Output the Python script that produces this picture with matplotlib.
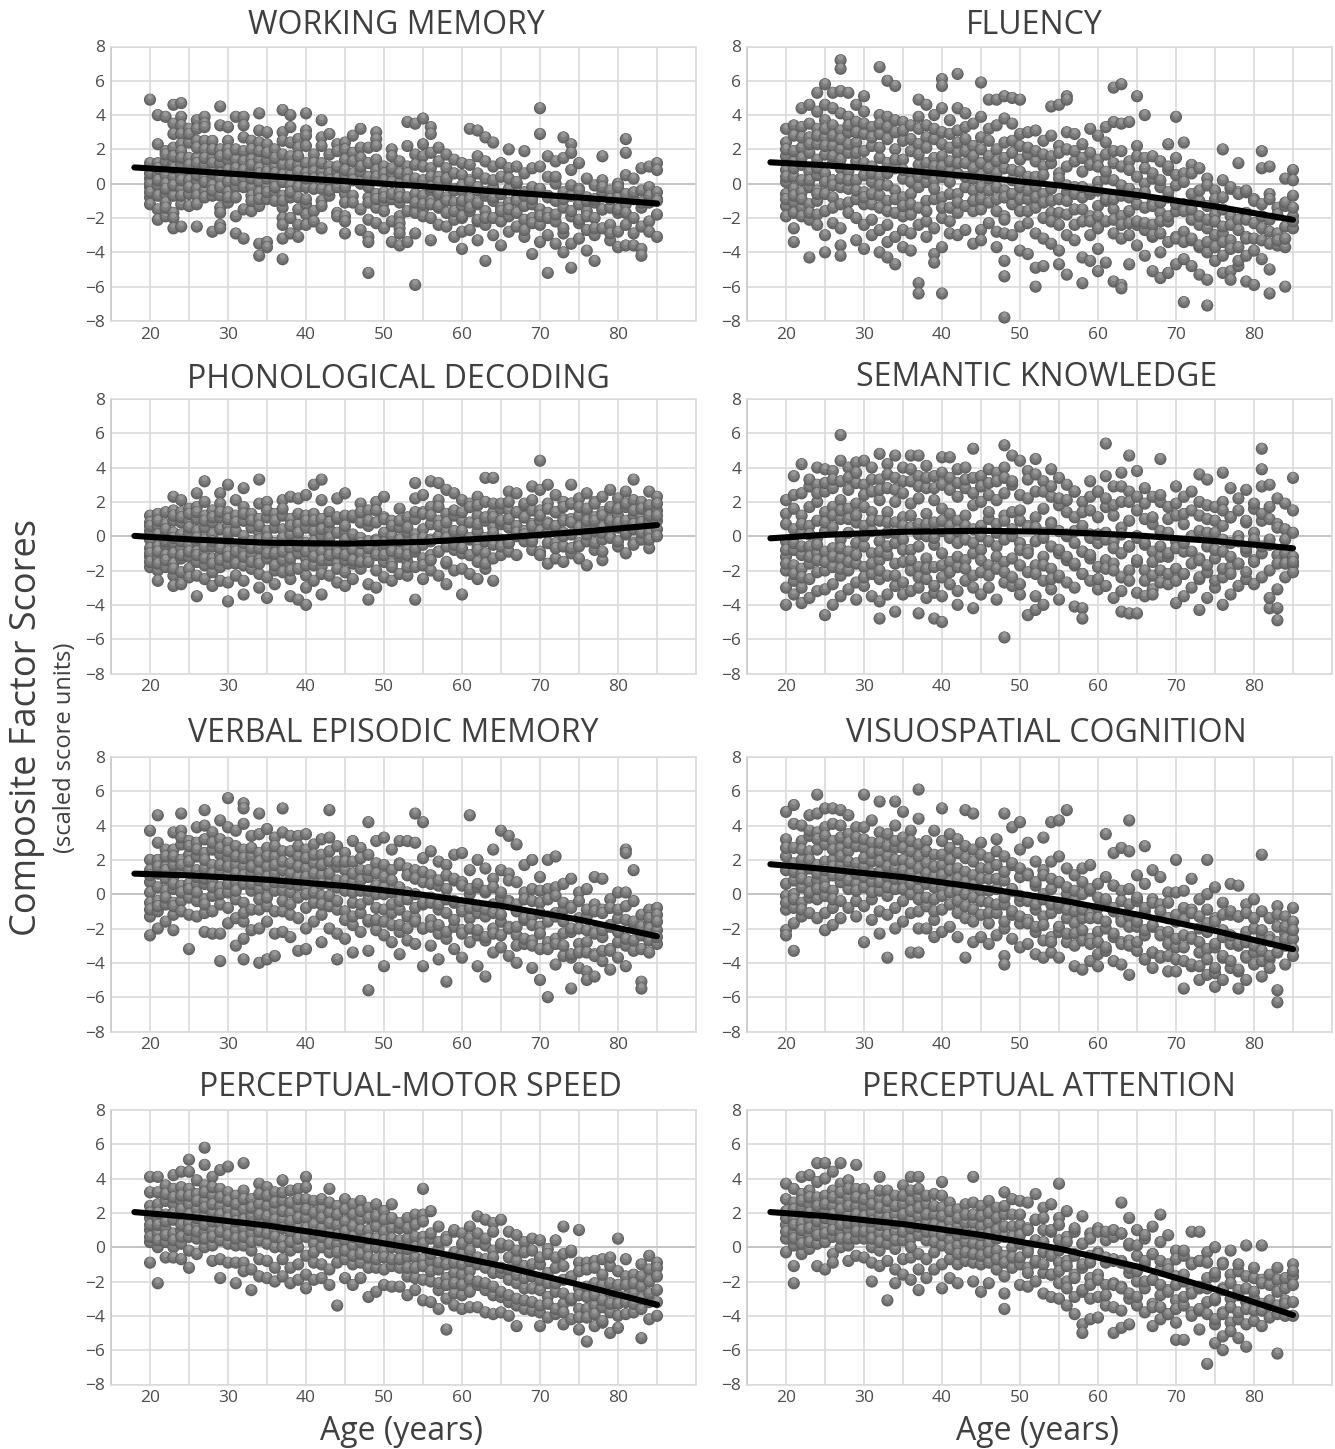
import numpy as np
import matplotlib
matplotlib.use("Agg")
import matplotlib.pyplot as plt

plt.rcParams['font.family'] = ['Open Sans', 'DejaVu Sans']

# scores, keyed by age
working_memory = {
    20: [4.9, 1.2, 0.3, -0.2, -0.8, -1.2, 0.0], 21: [4.0, 2.3, 1.2, 0.5, -0.1, -0.7, -1.5, -2.1],
    22: [3.9, 1.9, 1.3, 0.5, 0.0, -0.6, -1.1, -1.9], 23: [4.6, 3.5, 2.9, 2.1, 1.2, 0.4, -0.7, -1.7, -2.0, -2.6],
    24: [4.7, 3.9, 3.4, 2.9, 2.3, 1.9, 1.1, 0.5, -0.3, -1.2, -2.5], 25: [3.2, 2.4, 1.5, 0.8, 0.2, -0.6, -1.3],
    26: [3.7, 3.2, 2.5, 1.5, 0.9, 0.2, -0.3, -0.7, -1.2, -2.5], 27: [3.9, 3.5, 3.3, 2.5, 1.1, 0.4, -0.4, -0.8],
    28: [2.5, 1.5, 0.9, 0.3, -0.1, -0.7, -2.8], 29: [4.5, 3.4, 2.0, 1.2, 0.6, -0.7, -1.4, -1.7, -2.4, -2.6],
    30: [3.3, 2.5, 2.0, 1.4, 0.1, -0.5, -1.1], 31: [3.9, 1.4, 0.5, -0.2, -0.8, -1.9, -2.9],
    32: [3.9, 3.4, 2.7, 1.9, 1.3, 0.3, -1.5, -3.2], 33: [2.5, 2.0, 1.4, 0.8, -0.2, -0.7, -1.6],
    34: [4.1, 3.1, 2.4, 1.4, 0.9, 0.1, -0.5, -1.3, -3.5, -4.2], 35: [3.0, 2.3, 1.4, 0.7, -0.2, -0.9, -3.4, -3.7],
    36: [2.0, 1.0, 0.2, -0.5, -1.0], 37: [4.3, 3.0, 2.5, 1.1, 0.5, -0.7, -1.4, -2.0, -2.4, -3.2, -4.4],
    38: [4.0, 3.3, 2.4, 1.6, 0.5, -0.1, -0.8, -2.0, -2.9], 39: [2.6, 2.1, 1.1, 0.4, -0.2, -1.5, -2.4, -3.1],
    40: [4.1, 3.1, 2.8, 2.2, 1.2, 0.6, -0.2, -1.2, -1.8, -2.4], 41: [1.7, 1.2, 0.7, -1.6, -2.2],
    42: [3.7, 2.7, 2.2, 0.7, -0.3, -1.0, -1.3, -2.6], 43: [2.9, 1.7, 1.0, 0.6, -0.7],
    44: [2.3, 1.9, 0.7, -0.2, -1.7, -1.9], 45: [2.4, 2.0, 1.4, 0.5, -0.6, -1.1, -1.9, -2.2, -2.9],
    46: [2.8, 1.8, 0.6, -0.7, -1.1], 47: [3.2, 2.1, 1.5, 0.7, -1.5, -2.7],
    48: [2.1, 1.2, 0.4, -0.8, -2.1, -3.1, -3.4, -5.2], 49: [3.0, 2.6, 2.2, 1.4, 0.8, -0.6, -1.4, -2.3],
    50: [1.0, 0.6, -0.5, -1.1, -1.6, -2.6], 51: [2.0, 1.6, 0.6, -0.9, -2.2, -3.4],
    52: [1.3, 0.0, -0.5, -1.1, -1.9, -2.3, -2.6, -2.9, -3.6], 53: [3.6, 2.2, 1.0, 0.6, -3.4],
    54: [3.5, 1.7, 1.1, -0.6, -1.4, -1.7, -2.9, -5.9], 55: [3.8, 2.3, 1.6, 1.0, -0.7, -1.5, -1.9],
    56: [3.3, 2.9, 1.8, 0.9, -0.4, -1.0, -2.0, -3.3], 57: [2.1, 1.3, 0.4, -0.6, -1.4, -2.4],
    58: [1.7, 0.9, 0.2, -0.8, -1.7, -2.5], 59: [1.4, 0.6, -0.3, -1.1, -2.1, -3.1],
    60: [1.2, 0.5, -0.4, -1.3, -2.0, -2.8, -3.8], 61: [3.2, 1.1, 0.2, -0.9, -1.6, -2.7],
    62: [3.1, 1.6, 0.6, -0.4, -1.2, -2.2, -3.3], 63: [2.7, 1.3, 0.3, -0.7, -1.6, -2.4, -4.5],
    64: [2.4, 1.0, -0.2, -1.0, -2.0, -3.0], 65: [1.2, 0.4, -0.6, -1.4, -2.2, -3.6],
    66: [2.0, 0.9, -0.3, -1.1, -1.9, -2.8], 67: [1.0, 0.0, -0.9, -1.7, -2.5],
    68: [1.9, 0.6, -0.5, -1.3, -2.1, -3.1], 69: [0.9, -0.2, -1.2, -2.0, -4.1],
    70: [4.4, 2.9, 1.0, -0.4, -1.5, -2.4, -3.4], 71: [1.6, 0.4, -0.7, -1.7, -3.0, -5.2],
    72: [1.3, 0.0, -1.0, -2.2, -3.5], 73: [2.7, 1.5, -0.5, -1.4, -2.9, -4.0],
    74: [2.3, 1.8, 0.8, -0.7, -1.9, -3.5, -4.9], 75: [1.2, -0.3, -1.2, -2.3, -3.2],
    76: [0.3, -0.8, -1.6, -2.7, -3.9], 77: [-0.1, -1.1, -2.0, -3.0, -4.5],
    78: [1.6, 0.2, -0.5, -1.5, -2.6], 79: [-0.4, -1.4, -2.4, -3.3],
    80: [0.0, -0.8, -1.7, -2.8, -3.7], 81: [2.6, 1.8, 0.5, -1.2, -2.4, -3.6],
    82: [0.3, -0.9, -2.0, -3.6], 83: [0.9, -0.4, -1.4, -2.5, -3.8, -4.2],
    84: [1.0, -0.2, -1.1, -2.2], 85: [1.2, 0.8, -0.5, -0.9, -1.8],
}
fluency = {
    20: [3.2, 2.4, 1.6, 0.8, 0.1, -0.6, -1.3, -1.9], 21: [3.4, 2.8, 1.3, 0.4, -0.3, -1.1, -1.7, -2.6, -3.4],
    22: [4.4, 3.3, 2.1, 1.1, 0.2, -0.5, -1.4, -1.9], 23: [4.6, 3.5, 2.7, 1.8, 0.7, -0.2, -1.2, -2.1, -4.3],
    24: [5.3, 4.2, 3.2, 2.3, 1.4, 0.5, -0.4, -1.0, -1.8, -2.4], 25: [5.8, 4.6, 3.7, 2.7, 1.7, 0.6, -0.6, -1.6, -3.0, -4.0],
    26: [5.3, 4.4, 3.4, 2.2, 1.2, 0.2, -0.8, -1.4, -2.3], 27: [7.2, 6.7, 5.4, 4.1, 3.1, 2.0, 0.9, -0.2, -1.2, -2.6, -3.6, -4.2],
    28: [5.3, 3.9, 3.0, 1.8, 0.7, -0.3, -1.1, -1.7], 29: [4.6, 3.6, 2.4, 1.3, 0.2, -0.9, -2.0, -3.3],
    30: [5.1, 4.2, 2.9, 1.9, 0.5, -0.5, -1.2, -2.4, -3.8], 31: [3.3, 2.2, 1.0, 0.1, -1.2, -2.1, -3.0],
    32: [6.8, 4.0, 2.9, 1.5, 0.4, -0.7, -1.4, -2.7, -4.0], 33: [6.0, 3.9, 2.6, 1.2, -0.1, -1.0, -2.4, -3.4, -4.3],
    34: [5.7, 3.7, 2.0, 0.9, -0.4, -1.7, -3.1, -4.7], 35: [3.6, 2.5, 1.4, 0.3, -0.8, -1.9, -2.7, -3.7],
    36: [3.4, 1.9, 0.6, -0.6, -1.8, -2.9, -3.9], 37: [4.9, 3.9, 2.3, 1.1, -0.2, -1.4, -2.4, -5.8, -6.4],
    38: [4.6, 3.4, 2.7, 1.2, 0.1, -1.0, -2.2, -3.1], 39: [4.0, 2.6, 1.5, 0.2, -0.9, -2.6, -4.1, -4.6],
    40: [6.1, 5.7, 4.4, 3.0, 1.6, 0.4, -0.8, -2.0, -3.7, -6.4], 41: [3.7, 2.1, 0.7, -0.6, -2.2, -2.9],
    42: [6.4, 4.4, 3.1, 1.8, 0.6, -0.6, -1.7, -3.0], 43: [4.1, 2.6, 1.2, -0.2, -1.3, -2.7],
    44: [3.5, 2.2, 0.9, -0.4, -1.6, -3.5], 45: [5.9, 3.9, 2.7, 1.2, -0.2, -1.5, -2.7, -3.3],
    46: [4.9, 3.2, 1.6, 0.3, -1.1, -2.3], 47: [4.9, 3.4, 2.0, 0.6, -0.9, -2.8, -3.7],
    48: [5.1, 3.8, 2.4, 0.9, -0.4, -1.9, -2.9, -4.5, -5.4, -7.8], 49: [5.0, 3.5, 1.8, 0.2, -1.2, -3.0],
    50: [4.9, 2.9, 1.4, -0.2, -1.6, -2.5, -3.9], 51: [3.0, 1.7, 0.4, -0.9, -2.3, -4.1],
    52: [3.1, 1.3, -0.2, -1.4, -2.9, -4.9, -6.0], 53: [2.5, 1.0, -0.6, -2.0, -3.2, -4.8],
    54: [4.5, 2.8, 1.2, -0.3, -1.7, -3.5], 55: [4.6, 2.2, 0.6, -0.9, -2.4, -3.9, -4.7],
    56: [5.1, 4.9, 3.0, 1.0, -0.5, -1.8, -3.0, -5.3], 57: [2.9, 1.3, -0.2, -1.5, -3.3],
    58: [2.3, 0.7, -0.8, -2.2, -4.3, -5.8], 59: [3.2, 1.1, -0.6, -1.9, -3.0, -4.5],
    60: [2.8, 1.4, 0.1, -1.3, -2.6, -3.8, -5.1], 61: [3.3, 1.7, 0.3, -1.0, -2.2, -4.6],
    62: [5.6, 3.6, 1.9, 0.2, -1.5, -2.9, -5.7], 63: [5.8, 3.5, 1.0, -0.7, -1.9, -3.2, -5.9, -6.1],
    64: [3.6, 1.3, -0.3, -1.6, -3.0, -4.7], 65: [5.1, 2.2, 0.4, -1.2, -2.4, -3.6],
    66: [4.0, 1.5, 0.0, -1.4, -2.7, -4.2], 67: [1.6, 0.3, -1.1, -2.4, -3.1, -5.1],
    68: [1.3, -0.2, -1.7, -2.9, -4.0, -5.5], 69: [2.3, 0.8, -0.8, -2.2, -3.4, -5.2],
    70: [3.9, 1.5, -0.1, -1.6, -3.1, -4.7], 71: [2.4, 0.6, -1.2, -2.8, -4.4, -6.9],
    72: [1.1, -0.6, -2.1, -3.3, -4.8], 73: [0.9, -1.0, -2.4, -3.7, -5.3],
    74: [0.3, -1.3, -2.6, -4.0, -5.6, -7.1], 75: [-0.4, -1.8, -3.0, -4.5],
    76: [2.0, 0.2, -1.5, -2.9, -4.2, -5.2], 77: [-0.3, -1.9, -3.3, -5.1, -5.6],
    78: [1.2, -0.5, -2.1, -3.7, -4.8], 79: [-0.5, -1.7, -3.1, -4.2, -5.7],
    80: [-0.9, -2.3, -3.9, -5.9], 81: [1.9, 0.9, -1.2, -2.6, -4.4],
    82: [1.0, -0.6, -2.8, -5.0, -6.4], 83: [-1.4, -2.9, -3.6],
    84: [0.3, -1.3, -2.5, -3.7, -6.0], 85: [0.8, 0.2, -0.7, -1.9, -2.6],
}
phonological = {
    20: [1.2, 0.8, 0.3, -0.2, -0.7, -1.2, -1.8], 21: [1.3, 0.6, 0.1, -0.6, -1.3, -2.0, -2.6],
    22: [1.4, 0.7, 0.0, -0.5, -1.1, -1.8], 23: [2.3, 1.5, 0.9, 0.2, -0.4, -1.0, -1.6, -2.3, -2.9],
    24: [2.1, 1.4, 0.8, 0.1, -0.7, -1.3, -2.1, -2.8], 25: [1.6, 0.9, 0.2, -0.5, -1.2, -1.9, -2.4],
    26: [2.5, 1.7, 1.0, 0.3, -0.3, -0.9, -1.5, -2.3, -3.5], 27: [3.2, 2.0, 1.2, 0.5, -0.2, -1.0, -1.7, -2.5],
    28: [1.5, 0.8, 0.1, -0.6, -1.3, -2.1, -2.9], 29: [2.5, 1.9, 1.1, 0.4, -0.4, -1.1, -1.8, -2.6],
    30: [3.0, 1.4, 0.6, -0.2, -0.9, -1.6, -2.7, -3.8], 31: [2.1, 1.2, 0.3, -0.5, -1.2, -2.3],
    32: [2.8, 1.7, 0.9, 0.0, -0.8, -1.7, -2.6, -3.4], 33: [1.3, 0.5, -0.3, -1.1, -1.9],
    34: [3.3, 1.9, 1.0, 0.2, -0.7, -1.4, -2.2, -3.0], 35: [2.0, 1.1, 0.3, -0.6, -1.3, -2.4, -3.6],
    36: [1.3, 0.5, -0.4, -1.1, -2.0, -2.8], 37: [2.1, 1.2, 0.4, -0.5, -1.4, -2.1],
    38: [2.3, 1.0, 0.1, -0.7, -1.7, -2.5, -3.5], 39: [2.2, 0.7, -0.2, -1.0, -1.9, -3.7],
    40: [2.4, 1.2, 0.5, -0.4, -1.3, -2.3, -3.0, -4.0], 41: [3.0, 1.3, 0.3, -0.7, -1.7, -2.6],
    42: [3.3, 2.1, 1.0, 0.0, -0.9, -1.8, -3.4], 43: [1.4, 0.4, -0.6, -1.4, -2.3],
    44: [2.2, 1.0, 0.2, -0.8, -1.6, -2.7], 45: [2.5, 1.2, 0.3, -0.5, -1.4, -2.1, -2.9],
    46: [1.1, 0.1, -0.7, -1.6, -2.5], 47: [1.9, 0.8, -0.1, -1.0, -1.9],
    48: [1.5, 0.6, -0.3, -1.2, -2.8, -3.7], 49: [2.0, 0.8, -0.2, -1.0, -2.0, -3.0],
    50: [2.3, 1.1, 0.2, -0.7, -1.5, -2.4], 51: [0.9, 0.0, -0.8, -1.6, -2.6],
    52: [1.6, 0.5, -0.3, -1.2, -2.2], 53: [1.1, 0.2, -0.7, -1.5, -2.3],
    54: [3.1, 2.2, 1.0, 0.1, -0.9, -1.8, -3.7], 55: [2.4, 1.4, 0.4, -0.5, -1.3, -2.5],
    56: [3.2, 1.7, 0.7, -0.2, -1.1, -2.0], 57: [3.1, 2.1, 0.9, 0.0, -0.9, -2.3],
    58: [2.7, 1.3, 0.3, -0.6, -1.6, -2.8], 59: [2.5, 1.2, 0.3, -0.8, -2.0],
    60: [2.1, 0.9, 0.0, -1.0, -1.9, -3.4], 61: [1.9, 0.8, -0.2, -1.1, -2.2],
    62: [2.3, 1.2, 0.3, -0.6, -1.5, -2.5], 63: [3.4, 2.0, 0.9, -0.1, -1.0, -1.9],
    64: [3.4, 1.4, 0.5, -0.5, -1.3, -2.6], 65: [1.6, 0.7, -0.2, -1.1],
    66: [2.6, 1.5, 0.5, -0.4, -0.9], 67: [2.5, 1.4, 0.6, 0.0],
    68: [1.8, 1.1, 0.3, -0.3], 69: [2.9, 1.5, 0.7, -0.1, -0.8],
    70: [4.4, 2.7, 1.5, 0.9, 0.2, -0.9], 71: [3.0, 1.9, 0.8, 0.2, -1.6],
    72: [2.4, 1.4, 0.6, -0.4, -1.3], 73: [2.0, 1.0, 0.2, -0.6, -1.5],
    74: [3.0, 1.9, 1.0, 0.1, -1.0], 75: [2.2, 1.2, 0.4, -0.4, -1.3],
    76: [2.5, 1.4, 0.6, -0.3, -1.7], 77: [2.0, 1.1, 0.3, -0.8],
    78: [2.3, 1.4, 0.5, -0.2, -1.4], 79: [2.7, 1.6, 0.8, 0.0],
    80: [2.2, 1.2, 0.5, -0.6], 81: [2.6, 1.7, 0.9, 0.1, -1.0],
    82: [3.3, 2.1, 1.2, 0.4, -0.4], 83: [2.0, 1.1, 0.5, -0.2],
    84: [2.6, 1.6, 0.9, 0.2, -0.7], 85: [2.3, 1.5, 0.9, 0.4, 0.0],
}
semantic = {
    20: [1.3, 0.7, -0.3, -1.2, -2.0, -3.0, -4.0], 21: [3.5, 1.6, 0.4, -0.8, -1.7, -2.6, -3.4],
    22: [4.2, 2.5, 1.2, 0.2, -1.1, -1.9, -3.0, -3.9], 23: [2.9, 1.7, 0.6, -0.6, -1.6, -2.5, -3.6],
    24: [4.0, 3.0, 2.0, 0.9, -0.1, -1.0, -2.1, -3.2], 25: [3.9, 2.6, 1.4, 0.3, -0.9, -2.0, -3.1, -4.6],
    26: [3.8, 2.8, 1.7, 0.5, -0.7, -1.8, -2.8, -4.0], 27: [5.9, 4.4, 3.2, 2.1, 1.0, -0.2, -1.3, -2.3, -3.5],
    28: [4.0, 2.7, 1.6, 0.2, -0.9, -2.0, -3.1], 29: [4.3, 3.1, 1.9, 0.8, -0.4, -1.6, -2.7, -3.7],
    30: [4.4, 3.0, 1.7, 0.6, -0.6, -1.8, -2.9], 31: [4.0, 2.6, 1.4, 0.3, -1.0, -2.2, -3.5],
    32: [4.8, 3.3, 2.1, 0.9, -0.3, -1.4, -2.5, -3.8, -4.8], 33: [4.2, 2.8, 1.4, 0.2, -1.1, -2.3, -3.4],
    34: [4.7, 3.4, 2.0, 0.8, -0.4, -1.6, -2.9, -4.4], 35: [4.0, 2.5, 1.1, -0.2, -1.5, -2.7, -3.4],
    36: [4.7, 3.2, 1.9, 0.5, -0.8, -2.0, -3.2], 37: [4.7, 3.5, 2.2, 0.7, -0.6, -1.8, -3.0, -4.5],
    38: [4.1, 2.8, 1.3, 0.0, -1.3, -2.5, -3.6], 39: [3.5, 2.1, 0.8, -0.5, -1.8, -3.3, -4.8],
    40: [4.6, 3.0, 1.6, 0.3, -1.0, -2.4, -3.5, -5.0], 41: [4.6, 2.7, 1.3, -0.1, -1.5, -2.8],
    42: [3.9, 2.3, 0.9, -0.4, -1.8, -3.2, -4.0], 43: [4.0, 2.8, 1.2, -0.2, -1.4, -2.6],
    44: [5.1, 3.4, 1.8, 0.4, -1.0, -2.3, -4.2], 45: [3.5, 2.0, 0.6, -0.8, -2.1, -3.4],
    46: [3.9, 2.4, 1.0, -0.3, -1.7, -3.0], 47: [3.7, 2.1, 0.7, -0.6, -1.9, -3.7],
    48: [5.3, 4.0, 2.5, 1.2, -0.2, -1.5, -2.7, -5.9], 49: [4.7, 3.0, 1.4, 0.0, -1.3, -2.9],
    50: [4.4, 2.4, 0.9, -0.4, -1.7, -3.4], 51: [3.8, 2.2, 0.6, -0.8, -2.1, -4.6],
    52: [4.5, 2.6, 1.1, -0.3, -1.7, -3.5, -4.3], 53: [3.2, 1.6, 0.2, -1.2, -2.6, -4.0],
    54: [3.9, 2.3, 0.8, -0.6, -1.9, -3.1], 55: [3.4, 1.8, 0.3, -1.0, -2.4, -3.7],
    56: [3.0, 1.4, 0.0, -1.4, -2.7], 57: [2.6, 1.1, -0.4, -1.7, -3.0, -4.1],
    58: [2.0, 0.6, -0.9, -2.2, -4.2, -4.8], 59: [3.2, 1.5, 0.1, -1.3, -2.6],
    60: [2.6, 1.1, -0.4, -1.8, -3.1], 61: [5.4, 3.5, 1.7, 0.2, -1.4, -2.9],
    62: [2.9, 1.2, -0.3, -1.6, -3.6], 63: [3.7, 2.0, 0.5, -1.0, -2.4, -4.4],
    64: [4.7, 2.6, 0.9, -0.6, -2.0, -4.5], 65: [3.8, 1.5, 0.0, -1.5, -3.3, -4.5],
    66: [2.8, 1.0, -0.5, -2.0, -3.5], 67: [2.3, 0.7, -0.9, -2.3, -3.1],
    68: [4.5, 2.0, 0.3, -1.2, -2.7], 69: [1.7, 0.2, -1.2, -2.8],
    70: [2.9, 1.2, -0.3, -1.9, -3.9], 71: [2.3, 0.7, -0.9, -2.2, -3.5],
    72: [1.5, 0.0, -1.6, -3.0], 73: [3.6, 2.0, 0.3, -1.3, -2.5, -4.3],
    74: [3.3, 1.0, -0.6, -2.1, -3.6], 75: [1.7, 0.2, -1.3, -3.0],
    76: [3.7, 2.0, 0.6, -0.9, -2.4, -4.0], 77: [2.8, 1.1, -0.4, -1.8, -3.4],
    78: [1.5, 0.0, -1.6, -2.9], 79: [2.7, 0.8, -0.9, -2.5],
    80: [1.6, 0.2, -1.4, -2.8], 81: [5.1, 3.9, 2.9, 0.9, -1.0, -2.4],
    82: [3.0, 1.0, -0.5, -2.0, -4.2], 83: [2.2, 0.7, -1.1, -3.1, -4.9, -4.2],
    84: [1.9, 0.4, -1.0, -2.4], 85: [3.4, 0.2, -1.2, -1.7, -2.1],
}
verbal_memory = {
    20: [3.7, 2.0, 1.4, 0.7, 0.1, -0.5, -1.3, -2.4], 21: [4.6, 3.0, 2.0, 1.2, 0.4, -0.4, -1.0, -2.0],
    22: [2.6, 1.6, 0.9, 0.2, -0.6, -1.6], 23: [3.6, 2.6, 1.7, 1.0, 0.3, -0.5, -1.2, -2.1],
    24: [4.7, 3.7, 2.9, 2.0, 1.3, 0.5, -0.4, -1.0], 25: [3.1, 2.3, 1.4, 0.6, -0.2, -1.2, -3.2],
    26: [3.9, 3.0, 2.2, 1.4, 0.6, -0.4, -1.3], 27: [4.9, 4.0, 3.2, 2.4, 1.5, 0.6, -0.3, -1.1, -2.2],
    28: [3.6, 2.6, 1.7, 0.8, -0.1, -1.0, -2.3], 29: [4.3, 3.2, 2.3, 1.3, 0.4, -0.6, -2.3, -3.9],
    30: [5.6, 3.9, 3.0, 2.1, 1.1, 0.1, -0.8, -1.7], 31: [3.7, 2.8, 1.7, 0.7, -0.3, -1.4, -3.0],
    32: [5.3, 5.0, 4.1, 2.6, 1.6, 0.6, -0.5, -1.6, -2.6, -3.8], 33: [3.4, 2.2, 1.2, 0.2, -0.9, -2.1],
    34: [4.7, 3.5, 2.4, 1.3, 0.3, -0.9, -2.0, -4.0], 35: [3.8, 2.7, 1.6, 0.5, -0.7, -1.6, -3.8],
    36: [3.3, 2.2, 1.2, 0.2, -1.0, -2.3, -3.6], 37: [5.0, 3.6, 2.5, 1.4, 0.2, -1.0, -2.2],
    38: [3.4, 2.5, 1.2, 0.1, -1.2, -2.5], 39: [3.4, 2.2, 1.0, -0.2, -1.4, -3.3],
    40: [3.5, 2.6, 1.5, 0.4, -0.8, -2.0, -3.2], 41: [2.9, 1.8, 0.7, -0.5, -1.6],
    42: [3.2, 2.3, 1.1, -0.1, -1.2, -2.8], 43: [4.9, 3.3, 1.9, 0.6, -0.7, -2.0],
    44: [2.8, 1.6, 0.4, -0.9, -2.3, -3.8], 45: [2.4, 1.4, 0.2, -1.0, -2.6],
    46: [3.1, 1.9, 0.7, -0.5, -1.8, -3.4], 47: [2.7, 1.4, 0.2, -1.1, -2.2],
    48: [4.2, 2.3, 1.0, -0.3, -1.6, -3.3, -5.6], 49: [3.1, 1.8, 0.5, -0.8, -2.1],
    50: [3.3, 1.7, 0.4, -0.9, -2.4, -4.2], 51: [2.6, 1.4, 0.1, -1.1, -2.8],
    52: [3.1, 1.8, 0.4, -0.9, -2.2, -3.5], 53: [3.1, 1.5, 0.1, -1.3, -2.7],
    54: [4.7, 3.0, 1.4, 0.0, -1.4, -2.9], 55: [4.2, 2.1, 0.7, -0.6, -2.0, -4.2],
    56: [2.5, 1.1, -0.2, -1.5, -3.0], 57: [1.9, 0.5, -0.9, -2.3, -3.8],
    58: [1.7, 0.3, -1.1, -2.6, -5.1], 59: [2.3, 0.8, -0.5, -1.9, -3.2],
    60: [2.4, 0.7, -0.8, -2.1, -3.7], 61: [4.6, 1.4, 0.0, -1.4, -2.8],
    62: [2.0, 0.4, -1.1, -2.4, -4.2], 63: [1.5, 0.1, -1.3, -2.7, -4.8],
    64: [2.6, 0.9, -0.6, -2.0, -3.4], 65: [3.7, 1.4, -0.2, -1.6, -3.1],
    66: [3.4, 1.2, -0.4, -1.9, -3.6], 67: [2.9, 0.7, -1.0, -2.4, -4.0],
    68: [1.7, 0.1, -1.5, -2.9], 69: [2.0, 0.3, -1.3, -2.7, -4.3],
    70: [1.0, -0.5, -1.9, -3.2, -5.0], 71: [2.0, 0.3, -1.3, -2.8, -6.0],
    72: [2.2, 0.4, -1.1, -2.6, -4.1], 73: [0.6, -0.9, -2.3, -3.6],
    74: [0.9, -0.7, -2.2, -3.7, -5.5], 75: [0.1, -1.4, -2.9, -4.3],
    76: [0.3, -1.3, -2.8, -4.5, -5.0], 77: [1.0, -0.6, -2.2, -3.5, -4.8],
    78: [0.9, -0.9, -2.5, -3.9], 79: [-0.3, -1.8, -3.2, -4.4],
    80: [0.1, -1.4, -2.8, -3.7], 81: [2.6, 2.4, 0.1, -1.5, -3.0, -4.2],
    82: [1.4, -0.4, -1.8, -3.3], 83: [-1.2, -2.4, -5.1, -5.5],
    84: [-0.9, -1.7, -2.7, -3.4], 85: [-0.8, -1.2, -2.1, -2.9],
}
visuospatial = {
    20: [4.8, 3.2, 2.2, 1.4, 0.6, -0.1, -0.9, -2.1, -2.4], 21: [5.2, 4.1, 2.7, 1.8, 0.8, 0.0, -0.8, -1.7, -3.3],
    22: [4.0, 3.1, 2.0, 1.2, 0.4, -0.5, -1.3], 23: [4.6, 3.4, 2.5, 1.5, 0.7, -0.2, -1.1],
    24: [5.8, 4.7, 3.6, 2.6, 1.7, 0.8, -0.3, -1.4], 25: [5.0, 3.9, 2.9, 1.9, 0.9, -0.1, -1.1, -2.1],
    26: [5.0, 4.1, 3.1, 2.0, 1.1, 0.2, -0.8, -1.8], 27: [4.9, 4.0, 2.7, 1.7, 0.7, -0.4, -1.4],
    28: [4.6, 3.5, 2.5, 1.4, 0.3, -0.8], 29: [3.9, 2.8, 1.8, 0.6, -0.4, -1.3],
    30: [5.8, 3.9, 2.7, 1.6, 0.4, -0.7, -2.8], 31: [4.3, 3.0, 1.9, 0.7, -0.3, -1.5],
    32: [5.4, 3.6, 2.5, 1.3, 0.2, -1.0, -2.3], 33: [3.5, 2.2, 1.0, -0.1, -1.2, -3.7],
    34: [5.4, 4.0, 2.7, 1.5, 0.3, -0.8, -2.0], 35: [4.8, 3.3, 2.0, 0.8, -0.4, -1.6],
    36: [3.7, 2.5, 1.2, 0.0, -1.1, -3.4], 37: [6.1, 4.4, 2.9, 1.5, 0.3, -1.0, -2.0, -3.4],
    38: [3.1, 1.8, 0.6, -0.7, -2.0], 39: [3.7, 2.3, 1.0, -0.3, -1.5, -2.5],
    40: [5.0, 3.1, 1.7, 0.4, -0.9, -2.2], 41: [3.5, 2.0, 0.7, -0.6, -1.9],
    42: [3.2, 1.5, 0.2, -1.1, -2.5], 43: [4.9, 2.8, 1.3, 0.0, -1.4, -3.7],
    44: [4.7, 2.6, 1.1, -0.2, -1.6, -2.8], 45: [3.0, 1.5, 0.2, -1.2, -2.5],
    46: [2.1, 0.9, -0.5, -1.7, -2.9], 47: [3.2, 1.7, 0.3, -1.1, -2.4],
    48: [4.7, 2.2, 0.8, -0.6, -2.0, -3.6, -4.1], 49: [3.9, 1.7, 0.2, -1.2, -2.6],
    50: [4.2, 2.6, 1.0, -0.4, -1.7, -3.1], 51: [3.0, 1.2, -0.2, -1.5, -2.9],
    52: [1.9, 0.5, -0.9, -2.2, -3.5], 53: [3.3, 1.4, 0.0, -1.3, -2.7, -3.7],
    54: [4.2, 1.9, 0.3, -1.1, -2.5, -3.4], 55: [4.3, 2.2, 0.7, -0.8, -2.2, -3.7],
    56: [4.9, 1.5, 0.0, -1.4, -2.8], 57: [1.1, -0.3, -1.7, -3.0, -4.2],
    58: [1.5, 0.0, -1.4, -2.7, -4.4], 59: [1.7, 0.2, -1.2, -2.6, -3.9],
    60: [0.6, -0.8, -2.2, -3.5, -4.2], 61: [3.5, 1.0, -0.5, -2.0, -3.3],
    62: [2.4, 0.5, -1.0, -2.5, -3.9], 63: [2.7, 0.2, -1.4, -2.8, -4.1],
    64: [4.3, 2.5, 0.3, -1.3, -2.7, -4.7], 65: [1.1, -0.4, -1.9, -3.3],
    66: [2.8, 0.6, -1.0, -2.4, -3.8], 67: [1.4, -0.3, -1.9, -3.4, -4.3],
    68: [1.0, -0.6, -2.2, -3.6], 69: [0.1, -1.4, -2.9, -4.5],
    70: [2.0, 0.1, -1.6, -3.1, -4.5], 71: [0.2, -1.5, -3.1, -5.5],
    72: [0.9, -0.9, -2.5, -4.2], 73: [-0.3, -2.0, -3.4, -5.0],
    74: [2.0, 0.0, -1.7, -3.2, -4.7], 75: [0.4, -1.4, -3.1, -4.6, -5.4],
    76: [-0.5, -2.1, -3.7, -5.0], 77: [0.6, -1.2, -2.9, -4.3],
    78: [0.5, -1.3, -3.0, -4.5, -5.5], 79: [-0.6, -2.2, -3.6, -5.0],
    80: [-0.3, -2.0, -3.4, -4.1], 81: [2.3, -1.0, -2.4, -3.9, -4.8],
    82: [-1.4, -2.5, -3.8, -4.3], 83: [-0.7, -1.9, -3.4, -5.6, -6.3],
    84: [-1.3, -2.3, -3.0, -4.1], 85: [-0.8, -1.6, -2.6, -3.2],
}
motor_speed = {
    20: [4.1, 3.2, 2.4, 1.7, 1.0, 0.3, -0.9], 21: [4.1, 3.2, 2.5, 1.6, 0.8, 0.0, -2.1],
    22: [3.6, 2.7, 1.9, 1.1, 0.3, -0.6], 23: [4.2, 3.4, 2.5, 1.6, 0.8, 0.0, -0.6],
    24: [4.4, 3.5, 2.7, 1.8, 1.0, 0.2, -0.7], 25: [5.1, 4.4, 3.4, 2.5, 1.4, 0.6, -0.2, -1.2],
    26: [3.9, 3.1, 2.2, 1.3, 0.5, -0.4], 27: [5.8, 4.8, 3.6, 2.7, 1.8, 0.9, 0.0],
    28: [4.1, 3.0, 2.0, 1.0, 0.1, -0.8], 29: [4.5, 3.4, 2.4, 1.4, 0.4, -0.7, -1.8],
    30: [4.7, 3.2, 2.2, 1.2, 0.2, -0.9], 31: [3.0, 2.0, 1.0, 0.1, -0.9, -2.1],
    32: [4.9, 3.3, 2.2, 1.1, 0.1, -0.9, -1.4], 33: [2.8, 1.8, 0.8, -0.2, -1.3, -2.5],
    34: [3.7, 2.5, 1.4, 0.4, -0.7, -1.7], 35: [3.5, 2.4, 1.2, 0.2, -0.8, -1.8],
    36: [3.2, 2.1, 1.0, 0.0, -1.2, -2.0], 37: [3.9, 2.7, 1.6, 0.4, -0.7, -1.7],
    38: [3.3, 2.0, 0.9, -0.2, -1.2, -2.1], 39: [3.4, 2.3, 1.1, 0.0, -1.0, -1.9],
    40: [4.1, 2.8, 1.7, 0.6, -0.5, -1.6, -2.4], 41: [2.7, 1.3, 0.2, -0.9, -1.9],
    42: [2.2, 1.1, 0.0, -1.0, -1.8], 43: [3.4, 2.0, 0.8, -0.3, -1.3, -2.2],
    44: [2.4, 1.3, 0.2, -0.9, -3.4], 45: [2.8, 1.5, 0.4, -0.7, -1.8],
    46: [2.5, 1.2, 0.1, -1.0, -2.2], 47: [2.7, 1.6, 0.3, -0.9, -1.8],
    48: [2.3, 1.0, -0.1, -1.2, -2.9], 49: [2.5, 1.2, 0.0, -1.2, -2.6],
    50: [2.1, 0.9, -0.2, -1.3, -2.2], 51: [2.5, 1.1, 0.0, -1.1, -2.3],
    52: [1.1, -0.1, -1.2, -2.3], 53: [1.7, 0.5, -0.6, -1.7, -2.8],
    54: [1.9, 0.6, -0.6, -1.8, -2.5], 55: [3.4, 1.9, 0.6, -0.7, -1.9, -3.1],
    56: [2.1, 0.5, -0.8, -2.0, -3.2], 57: [1.2, -0.1, -1.3, -2.5, -3.6],
    58: [0.6, -0.6, -1.8, -3.0, -4.8], 59: [0.9, -0.3, -1.5, -2.7, -3.4],
    60: [0.8, -0.4, -1.6, -2.8, -3.6], 61: [1.2, -0.2, -1.4, -2.6, -3.5],
    62: [1.8, 0.3, -1.0, -2.2, -3.5], 63: [1.6, 0.1, -1.2, -2.5, -3.8],
    64: [1.4, -0.2, -1.5, -2.8, -3.9], 65: [1.6, 0.0, -1.5, -2.9, -3.8],
    66: [0.9, -0.6, -1.9, -3.2, -4.0], 67: [0.7, -0.8, -2.1, -3.4, -4.6],
    68: [0.3, -1.1, -2.4, -3.6], 69: [0.5, -1.0, -2.4, -3.7],
    70: [0.4, -1.0, -2.5, -3.8, -4.6], 71: [-0.1, -1.5, -2.9, -4.1],
    72: [0.4, -1.2, -2.6, -3.9], 73: [1.2, -0.4, -1.9, -3.3, -4.5],
    74: [-0.3, -1.8, -3.1, -4.2], 75: [1.0, -0.9, -2.4, -3.6, -4.8],
    76: [-0.9, -2.3, -3.6, -5.5], 77: [-0.8, -2.1, -3.4, -4.6],
    78: [-0.7, -2.2, -3.5, -4.4], 79: [-1.1, -2.6, -3.8, -5.0],
    80: [0.5, -1.4, -2.8, -4.0, -4.7], 81: [-1.7, -2.9, -3.9],
    82: [-1.6, -2.7, -3.8], 83: [-1.0, -2.3, -3.6, -5.3],
    84: [-0.5, -2.0, -3.2, -4.2], 85: [-0.9, -1.2, -2.5, -4.0],
}
attention = {
    20: [3.7, 2.8, 2.1, 1.3, 0.5, -0.3], 21: [3.4, 2.6, 1.7, 0.9, 0.1, -1.1, -2.1],
    22: [4.1, 3.1, 2.3, 1.4, 0.6, -0.4], 23: [4.2, 3.3, 2.5, 1.6, 0.7, -0.1],
    24: [4.9, 3.8, 2.9, 2.0, 1.1, 0.2, -1.1], 25: [4.9, 4.0, 3.0, 2.1, 1.2, 0.3, -1.3],
    26: [4.4, 3.3, 2.4, 1.5, 0.6, -0.4, -0.9], 27: [4.9, 3.7, 2.7, 1.8, 0.9, 0.0],
    28: [3.9, 2.9, 1.9, 1.0, 0.1, -0.8], 29: [4.8, 3.4, 2.4, 1.4, 0.5, -0.5],
    30: [3.4, 2.4, 1.4, 0.5, -0.6], 31: [3.0, 2.0, 1.0, 0.0, -0.9, -2.0],
    32: [4.1, 2.8, 1.8, 0.8, -0.2, -1.1], 33: [3.3, 2.2, 1.2, 0.2, -0.8, -3.1],
    34: [3.0, 1.9, 0.9, -0.1, -1.3, -2.1], 35: [3.6, 2.5, 1.4, 0.4, -0.7, -1.6],
    36: [4.1, 2.7, 1.6, 0.5, -0.6, -1.9], 37: [4.1, 2.9, 1.8, 0.7, -0.4, -1.3, -2.5],
    38: [2.5, 1.4, 0.4, -0.7, -1.8], 39: [3.1, 1.9, 0.8, -0.3, -1.3],
    40: [3.8, 2.3, 1.2, 0.1, -1.0, -2.4], 41: [2.6, 1.5, 0.4, -0.7, -1.8],
    42: [2.2, 1.2, 0.1, -1.0, -2.1], 43: [2.5, 1.4, 0.3, -0.8],
    44: [4.1, 2.6, 1.4, 0.2, -0.9, -2.0], 45: [2.4, 1.2, 0.1, -1.0, -2.6],
    46: [2.7, 1.4, 0.2, -0.9, -2.1], 47: [2.3, 1.0, -0.2, -1.3],
    48: [3.2, 1.9, 0.6, -0.5, -1.7, -2.7, -3.6], 49: [2.8, 1.2, 0.0, -1.2],
    50: [2.7, 1.3, 0.2, -1.0, -2.2], 51: [2.6, 1.1, -0.1, -1.2, -2.3],
    52: [3.1, 1.6, 0.3, -0.9, -2.0], 53: [2.3, 1.0, -0.3, -1.5, -2.7],
    54: [2.5, 0.9, -0.3, -1.6, -2.9], 55: [3.7, 1.7, 0.4, -0.9, -2.1, -3.0],
    56: [2.1, 0.6, -0.8, -2.0, -3.4], 57: [0.9, -0.4, -1.6, -2.9, -3.9],
    58: [1.8, 0.2, -1.2, -2.6, -4.5, -5.0], 59: [0.8, -0.5, -1.8, -3.0, -4.2],
    60: [1.1, -0.3, -1.6, -2.9, -4.1], 61: [0.4, -0.9, -2.2, -3.4],
    62: [0.6, -0.8, -2.1, -3.5, -5.0], 63: [2.6, 0.8, -0.8, -2.3, -3.7, -4.7],
    64: [1.7, 0.1, -1.5, -3.0, -4.5], 65: [1.0, -0.5, -2.0, -3.4],
    66: [0.5, -1.0, -2.4, -3.8], 67: [1.2, -0.4, -1.9, -3.3, -4.6],
    68: [1.9, 0.3, -1.3, -2.8, -4.2], 69: [0.7, -1.0, -2.5, -3.9],
    70: [-0.2, -1.7, -3.1, -4.4, -5.4], 71: [-0.5, -2.0, -3.4, -5.4],
    72: [0.9, -0.9, -2.4, -3.8], 73: [0.9, -0.8, -2.4, -3.7, -4.8],
    74: [-0.3, -1.8, -3.2, -6.8], 75: [0.0, -1.7, -3.1, -4.5, -5.6],
    76: [-0.9, -2.4, -3.8, -5.2, -6.0], 77: [-0.2, -1.6, -3.0, -4.4],
    78: [-1.4, -2.8, -4.2, -5.3], 79: [0.1, -1.7, -3.2, -4.5, -5.8],
    80: [-1.8, -3.0, -4.3], 81: [0.1, -1.9, -3.3, -4.6],
    82: [-2.2, -3.4, -4.1], 83: [-1.2, -2.6, -3.9, -6.2],
    84: [-2.4, -3.1, -4.0], 85: [-1.0, -1.7, -2.2, -4.0],
}

# more points of the dense middle of each cloud, one row per age from 20 to 85
fill_ages = list(range(20, 86))
fill_working_memory = [
    [0.6, -0.5], [0.9, 0.2], [1.7, -0.3, -1.4], [1.6, 0.9, -0.1], [1.5, 0.2, -0.7], [2.9, 1.1, -0.2], [2.1, 1.2, 0.5],
    [2.0, 1.5, 0.1], [2.0, 1.2, 0.6, -0.4], [1.6, 0.3, -0.2], [1.7, 0.8, -0.8], [2.0, 0.9, 0.2], [0.8, -0.2], [1.1, 0.3, -1.0],
    [1.9, 0.6, -0.9], [1.8, 0.3, -0.5], [1.5, 0.6, -0.2], [1.7, 0.1, -1.0], [1.1, -0.5], [1.6, 0.7, -0.8],
    [0.3, -0.9], [0.3, -0.3], [1.2, 0.3], [0.2, -0.4], [1.0, 0.3], [0.8, -0.2], [1.3, 0.2], [1.0, 0.0], [-0.2, -1.1], [0.4, -0.9],
    [0.2, -0.8], [0.9, 0.1, -0.6], [0.6, -0.8], [0.2, -0.8, -1.6], [0.3, -1.1], [0.2, -1.2], [0.4, -0.2, -1.2], [0.1, -1.3], [0.3, -1.0],
    [-0.4, -1.6], [-0.1, -1.0, -1.9], [0.1, -1.4], [-0.2, -1.1, -2.1], [-0.5, -2.0], [0.2, -0.8], [-0.6, -1.6], [0.3, -1.5], [0.1, -1.0], [-0.7, -2.7],
    [-0.9, -2.3], [-0.3, -1.9], [-0.8, -2.0], [0.4, -1.8], [-0.9, -2.6], [-0.1, -1.6], [-0.4, -2.1], [-1.0, -1.9], [-0.9, -2.6],
    [-0.2, -1.5], [-0.9, -2.9], [-0.2, -1.5], [-0.6, -1.7], [-0.5, -2.9], [-1.1], [-0.7, -2.8], [-1.0, -3.1],
]
fill_fluency = [
    [2.0, 0.4, -0.9], [1.9, 0.9, -0.7], [2.7, 1.5, -0.9], [2.3, 0.2, -1.7], [2.8, 0.9, -0.6], [3.2, 2.2, 0.1], [2.8, 1.6, -0.1],
    [2.6, 1.4, 0.3], [3.4, 2.3, 0.2], [3.0, 1.8, -0.4], [3.5, 1.2, -0.8], [2.7, 0.6, -0.6], [3.5, 2.1, -0.1], [3.3, 0.6, -1.6],
    [3.0, 1.4, -0.9], [3.1, 0.8, -1.3], [2.6, 0.1, -1.2], [3.2, 1.7, 0.4], [2.1, 0.6, -1.6], [3.2, 1.0, -0.3], [2.3, 1.0, -1.4],
    [2.9, 1.3, 0.1, -1.4], [2.4, 1.2, -1.1], [3.3, 1.9, 0.4], [1.6, 0.3, -1.0], [2.0, 0.5, -0.9], [2.5, 0.9, -0.4], [1.3, -0.2, -1.6], [1.5, -0.8, -2.1],
    [2.5, 0.8, -0.6], [2.2, 0.7, -0.9], [2.1, -0.4, -1.6], [1.9, 0.4, -0.8], [1.7, 0.5, -1.1], [1.6, -1.0, -2.2], [1.8, 0.3, -1.7], [2.0, -0.1, -1.0],
    [1.9, -0.6, -2.4], [1.5, -0.2, -1.5], [1.8, -0.4, -2.2], [1.0, -0.4, -1.9], [2.4, 0.7, -0.9], [1.2, -0.9, -2.1], [1.9, -0.1, -2.4], [0.8, -0.8, -2.3],
    [1.6, -0.6, -2.2], [0.9, -0.5, -2.3], [0.6, -1.3, -3.0], [0.2, -1.1, -2.2], [1.0, -0.5, -1.9], [0.5, -1.2, -3.2], [0.1, -1.6, -3.4], [0.6, -1.5, -3.2],
    [-0.4, -1.9, -3.6], [-0.1, -2.1, -3.4], [-0.9, -2.2, -3.7], [-0.8, -2.5, -3.4], [-0.2, -2.4, -3.8], [-0.6, -2.7, -4.5], [-0.4, -2.1, -3.2], [-1.0, -3.2],
    [-1.9, -3.3], [-0.9, -2.1, -3.5], [-1.8, -3.3], [-1.1, -3.2], [-1.4, -2.2],
]
fill_phonological = [
    [0.6, -1.0, -1.5], [0.9, -0.9, -1.6], [0.4, -1.4, -0.3], [1.2, -0.1, -1.9], [1.1, -0.3, -1.1], [1.3, 0.5, -0.9], [1.4, -0.1, -1.1],
    [0.9, -0.6, -1.3], [1.1, -0.3, -1.6], [1.4, -0.7, -1.4], [1.0, 0.2, -1.2], [0.8, -0.9, -1.6], [1.3, -0.4, -1.2], [0.9, -0.7, -1.5],
    [0.6, -0.2, -1.6], [1.5, -0.1, -1.0], [0.9, -1.0, -1.7], [1.6, -0.1, -0.9], [0.6, -1.3, -2.0], [1.3, 0.2, -0.6], [0.9, -0.9, -1.7],
    [0.9, -0.3, -1.2], [0.4, -1.4, -2.2], [0.8, -0.1, -1.1], [1.1, -1.0, -1.9], [0.6, -0.2, -1.1], [1.2, -0.8, -1.4], [1.4, -0.4, -1.5], [0.9, -0.7, -1.5],
    [1.5, -0.3, -1.1], [1.0, -0.4, -1.1], [0.6, -0.9, -1.8], [0.9, -0.2, -1.0], [0.5, -1.1, -1.8], [1.4, -0.2, -0.7], [1.3, -0.1, -1.7], [1.2, -0.3, -1.4],
    [1.7, 0.6, -0.9], [0.8, -0.1, -1.5], [1.5, 0.3, -0.5], [1.4, 0.3, -0.7], [1.7, -0.1, -1.1], [1.8, 0.7, -0.8], [1.1, -0.3, -1.6], [1.9, 1.1, 0.2],
    [1.9, 0.9, -0.6], [2.0, 1.0, -0.4], [1.4, 0.2, -1.1], [1.9, 1.1, 0.1], [2.1, 0.6, -0.3], [1.2, 0.3, -1.1], [1.6, 0.7, -0.4], [1.4, 0.6, -0.7],
    [1.7, 0.9, 0.0], [1.9, 0.8, -0.7], [1.7, 0.5, -0.6], [1.6, 0.9, 0.1], [1.9, 0.9, -0.4], [1.2, 0.2, -0.9], [1.7, 0.9, -0.1], [1.6, 0.8, -0.3],
    [1.9, 0.2], [1.5, 0.7, -0.5], [1.6, 0.8, 0.2], [1.8, 1.2, -0.2], [1.9, 1.2],
]
fill_semantic = [
    [2.1, -1.6, -0.8], [2.4, -0.4, -2.2], [0.7, -0.6, -2.4], [3.3, 0.1, -1.2], [2.5, -0.5, -1.4], [3.1, 0.8, -1.5], [3.3, 1.2, -1.2],
    [1.5, -0.7, -1.9], [3.4, 1.0, -1.5], [3.7, 1.2, -1.1], [2.4, 0.0, -2.4], [3.3, 0.9, -1.6], [2.7, -0.9, -2.0], [3.6, 0.8, -0.6],
    [2.7, 0.2, -2.3], [3.2, 0.6, -0.8], [3.9, 1.2, -1.4], [2.9, 0.1, -2.4], [3.4, 0.7, -1.9], [2.8, -0.1, -2.9], [3.7, 0.9, -1.7],
    [3.4, 0.6, -2.1], [3.1, 0.3, -1.2], [3.3, 0.6, -1.9], [2.5, -0.4, -3.0], [2.9, 0.0, -1.4], [3.1, 1.4, -2.3], [3.2, 0.2, -1.2], [3.4, 0.9, -2.1],
    [3.2, 0.4, -2.4], [1.5, -0.8, -2.8], [3.3, 0.5, -1.0], [3.6, 0.5, -2.2], [2.6, -0.1, -1.7], [2.9, 0.7, -2.5], [2.2, -0.8, -2.3], [2.1, 0.1, -1.2],
    [2.6, 0.3, -1.6], [1.4, -0.9, -2.2], [2.3, -0.1, -1.1], [2.6, 0.1, -2.5], [2.2, -0.2, -1.9], [1.8, -0.7, -2.0], [2.9, 0.1, -3.2], [2.0, -0.6, -2.6],
    [2.3, -0.1, -1.4], [1.9, -0.4, -2.6], [1.1, -1.5, -3.4], [2.4, -0.6, -2.0], [1.0, -1.0, -2.2], [1.9, -0.7, -2.6], [1.3, -0.4, -2.2], [2.6, -0.9],
    [1.2, -1.4, -2.4], [1.8, 0.2, -1.7], [0.9, -0.8, -2.6], [1.5, -0.2, -1.9], [1.1, -1.2, -2.2], [2.2, -0.3, -1.6], [0.9, -0.7, -2.1], [1.9, -0.2, -1.5],
    [1.3, -0.6], [1.7, -0.2, -3.6], [0.5, -1.6], [-0.2, -1.6], [1.5, -1.5],
]
fill_verbal_memory = [
    [1.1, -0.9], [1.6, -0.7], [2.2, 1.4, -0.2], [2.2, 0.6, -0.7], [3.3, 1.7, 0.1], [2.8, 1.9, 0.3], [2.6, 1.0, 0.1],
    [2.0, 0.9, -0.6], [3.0, 1.2, 0.4], [2.7, 1.7, 0.0], [2.5, 1.6, 0.6], [2.2, 1.2, 0.2], [2.1, 1.1, -1.1], [2.7, 1.6, 0.6],
    [1.9, 0.8, -0.3], [2.2, 1.0, -0.2], [2.8, 1.7, 0.7], [1.9, 0.7, -0.4], [1.8, 0.6, -0.6], [2.8, 1.6, 0.5], [2.1, 1.0, 0.0],
    [2.3, 1.2, 0.1], [1.7, 0.6, -0.6], [2.5, 1.2, -0.1], [1.9, 0.8, -0.4], [1.9, 0.8, -1.5], [1.2, 0.1, -1.3], [2.1, 0.8, -0.6], [1.4, 0.2, -1.5],
    [1.2, 0.0, -1.5], [1.0, 0.0, -1.6], [0.8, -0.6, -1.8], [1.7, -0.4, -1.8], [1.1, -0.3, -2.0], [0.9, -0.8, -1.6], [1.3, -0.5, -2.0], [0.6, -0.5, -1.9],
    [0.8, -0.6, -1.8], [1.1, -0.3, -2.2], [0.9, -0.4, -1.5], [0.5, -1.0, -2.3], [0.3, -0.8, -2.0], [0.6, -0.7, -2.1], [0.2, -0.9, -2.5], [0.4, -1.1, -2.3],
    [0.1, -1.2, -2.4], [0.8, -0.5, -2.0], [-0.6, -1.9, -3.0], [-0.3, -1.4, -2.6], [-0.4, -1.8, -3.0], [0.2, -1.1, -2.3], [-0.3, -1.6, -3.2], [-0.1, -1.3, -2.9],
    [-0.5, -1.6, -3.0], [-0.8, -2.0, -3.5], [-0.4, -2.0, -3.4], [-0.9, -2.1, -3.4], [-1.0, -2.3, -3.6], [-1.1, -2.1, -3.3], [-0.8, -1.9, -3.3], [-0.9, -2.2],
    [-0.7, -2.6], [-1.6, -2.7], [-1.9, -3.2], [-1.4, -2.0], [-1.6, -2.5],
]
fill_visuospatial = [
    [2.7, -0.5], [1.3, -0.3], [2.6, 0.9, -0.9], [3.7, 2.0, 0.1], [3.2, 1.2, 0.3], [3.4, 1.4, 0.4], [2.6, 1.6, -0.3],
    [3.3, 2.2, 1.1], [3.0, 1.9, 0.8], [3.3, 1.2, 0.2], [3.2, 2.1, 1.0], [2.4, 1.2, 0.1], [3.0, 1.9, 0.7], [2.8, 1.6, 0.4],
    [3.1, 2.0, 0.9], [2.7, 1.4, 0.3], [3.1, 1.8, 0.6], [2.2, 0.9, -0.3], [2.5, 1.2, -0.2], [1.6, 0.4, -1.0], [2.3, 1.1, -0.1],
    [2.7, 1.4, 0.1], [2.4, 0.9, -0.4], [2.1, 0.7, -0.7], [1.9, 0.5, -0.9], [2.3, 0.9, -0.4], [1.5, 0.2, -1.1], [2.5, 0.9, -0.6], [1.3, -0.2, -1.6],
    [1.8, 0.3, -1.0], [1.5, -0.1, -1.3], [1.1, -0.4, -1.7], [0.7, -0.6, -1.9], [1.1, -0.3, -1.8], [0.9, -0.6, -2.8], [0.7, -0.6, -1.9], [0.4, -0.9, -2.3],
    [0.2, -1.0, -2.3], [0.7, -0.9, -2.1], [0.3, -1.4, -2.9], [-0.2, -1.4, -2.8], [-0.3, -1.6, -3.1], [0.5, -0.8, -2.3], [-0.4, -1.6, -2.9], [-0.6, -1.9, -3.0],
    [-0.2, -1.6, -2.8], [-0.8, -2.1, -3.8], [-0.5, -1.8, -3.4], [-1.0, -2.4, -3.7], [-0.5, -2.2, -3.6], [-1.2, -2.6, -3.8], [-0.8, -2.4, -3.9], [-1.1, -2.6, -4.1],
    [-1.3, -2.8, -4.2], [-0.9, -2.2, -3.8], [-1.6, -2.9, -4.3], [-1.2, -2.5, -3.6], [-1.0, -2.4, -3.9], [-1.3, -2.9, -4.4], [-1.1, -2.8, -3.7], [-1.4, -3.0],
    [-2.1, -3.3], [-2.7, -3.6], [-1.2, -2.8], [-1.9, -2.6], [-2.1, -3.6],
]
fill_motor_speed = [
    [2.0, 1.3, 0.6], [2.0, 1.3, 0.4], [3.1, 1.5, 0.7], [2.9, 2.0, 0.4], [3.0, 2.2, 1.3, 0.6], [3.0, 1.9, 1.0], [2.7, 1.7, 0.9],
    [3.2, 2.3, 1.3, 0.5], [3.5, 2.5, 1.5, 0.6], [2.9, 1.9, 0.9], [2.7, 1.7, 0.7], [2.5, 1.5, 0.5], [2.8, 1.6, 0.6], [2.3, 1.3, 0.3],
    [3.1, 1.9, 0.9], [3.0, 1.8, 0.8], [2.6, 1.6, 0.6], [3.2, 2.1, 1.1, 0.0], [2.6, 1.5, 0.3], [2.8, 1.7, 0.5], [3.5, 2.2, 1.1],
    [2.0, 0.8, -0.3], [2.8, 1.7, 0.6], [2.6, 1.4, 0.2], [1.9, 0.7, -0.3], [2.2, 0.9, -0.2], [1.9, 0.6, -0.5], [2.1, 1.0, -0.4], [1.7, 0.5, -0.6],
    [1.8, 0.5, -0.7], [1.6, 0.4, -0.6], [1.7, 0.5, -0.7], [1.4, 0.4, -0.7], [1.1, -0.1, -1.2], [1.3, 0.0, -1.2], [1.5, 0.2, -1.1], [0.8, -0.4, -1.4],
    [0.3, -0.9, -2.1], [0.4, -1.0, -2.2], [1.0, -0.9, -2.1], [0.2, -1.0, -2.2], [0.5, -0.8, -1.9], [0.8, -0.6, -2.0], [0.5, -0.7, -2.1], [0.9, -0.6, -2.3],
    [0.2, -1.2, -2.6], [0.1, -1.3, -2.8], [-0.2, -1.6, -3.0], [-0.3, -1.8, -3.1], [-0.2, -1.7, -3.2], [-0.6, -1.9, -3.4], [-0.4, -2.1, -3.3], [-0.6, -2.1, -3.6],
    [-1.1, -2.7, -3.8], [-0.2, -1.7, -3.0], [-1.4, -2.8, -4.1], [-1.3, -2.9, -4.1], [-1.2, -2.8, -3.9], [-1.6, -3.1, -4.3], [-0.6, -2.1, -3.3], [-2.2, -3.3],
    [-0.7, -2.2, -3.2], [-2.1, -3.3], [-1.7, -3.0], [-1.3, -2.7], [-1.7, -3.2],
]
fill_attention = [
    [1.7, 0.9], [2.2, 1.3, 0.5], [2.7, 1.0, 0.2], [2.9, 2.0, 1.1, 0.3], [2.4, 1.5, 0.7], [2.5, 1.7, 0.8], [2.9, 1.9, 1.0],
    [3.2, 2.2, 1.3, 0.5], [3.4, 2.4, 1.4, 0.5], [2.9, 1.9, 0.9], [2.8, 1.8, 0.9], [2.5, 1.5, 0.5], [3.3, 2.3, 1.3, 0.3], [2.7, 1.7, 0.7],
    [2.4, 1.4, 0.4], [3.0, 1.9, 0.9], [3.3, 2.1, 1.1, 0.0], [3.4, 2.3, 1.2], [3.0, 1.9, 0.9], [2.4, 1.3, 0.3], [3.0, 1.8, 0.7],
    [2.1, 1.0, -0.1], [1.7, 0.7, -0.4], [1.9, 0.8, -0.3], [1.9, 0.8, -0.4], [1.8, 0.7, -0.5], [2.0, 0.8, -0.3], [1.7, 0.5, -0.7], [2.4, 1.2, -0.9],
    [1.9, 0.6, -0.6], [1.9, 0.7, -0.6], [1.0, -0.3, -1.5], [1.6, 0.4, -0.8], [1.7, 0.3, -1.0], [1.0, -0.5, -1.6], [1.3, -0.2, -1.4], [0.3, -1.1, -2.4],
    [1.1, -0.5, -1.8], [0.2, -1.0, -2.5], [0.5, -0.9, -2.2], [0.9, -0.4, -1.9], [0.9, -0.6, -2.8], [1.0, -0.7, -2.2], [0.8, -0.9, -2.4], [0.2, -1.2, -2.7],
    [0.1, -1.4, -2.9], [0.7, -0.8, -2.0], [-0.4, -1.9, -3.5], [-0.8, -2.2, -3.5], [-1.3, -2.6, -3.9], [-0.7, -2.2, -3.6], [-0.2, -1.6, -2.9], [-1.0, -2.7, -4.0],
    [-0.8, -2.3, -3.6], [-0.9, -2.4, -3.9], [-1.5, -3.0, -4.2], [-1.0, -2.5, -3.9], [-2.1, -3.5, -4.9], [-1.0, -2.5, -3.8], [-2.4, -3.6], [-1.2, -2.6, -3.7],
    [-2.1, -3.7], [-1.6, -3.1], [-1.9, -3.4], [-1.8, -3.3], [-1.4, -3.2],
]

fit_ages = [18, 25, 35, 45, 55, 65, 75, 85]
fit_working_memory = [0.95, 0.75, 0.45, 0.15, -0.15, -0.47, -0.8, -1.15]
fit_fluency = [1.25, 1.08, 0.78, 0.38, -0.1, -0.65, -1.32, -2.1]
fit_phonological = [0.02, -0.18, -0.38, -0.43, -0.33, -0.08, 0.25, 0.65]
fit_semantic = [-0.12, 0.08, 0.26, 0.32, 0.25, 0.05, -0.28, -0.7]
fit_verbal_memory = [1.2, 1.1, 0.85, 0.48, -0.03, -0.68, -1.48, -2.45]
fit_visuospatial = [1.75, 1.47, 1.0, 0.38, -0.33, -1.18, -2.13, -3.2]
fit_motor_speed = [2.05, 1.78, 1.27, 0.6, -0.15, -1.08, -2.18, -3.35]
fit_attention = [2.05, 1.82, 1.35, 0.72, -0.08, -1.12, -2.45, -3.95]

titles = ['WORKING MEMORY', 'FLUENCY', 'PHONOLOGICAL DECODING', 'SEMANTIC KNOWLEDGE',
          'VERBAL EPISODIC MEMORY', 'VISUOSPATIAL COGNITION', 'PERCEPTUAL-MOTOR SPEED', 'PERCEPTUAL ATTENTION']
panel_scores = [working_memory, fluency, phonological, semantic, verbal_memory, visuospatial, motor_speed, attention]
panel_fill = [fill_working_memory, fill_fluency, fill_phonological, fill_semantic,
              fill_verbal_memory, fill_visuospatial, fill_motor_speed, fill_attention]
panel_fits = [fit_working_memory, fit_fluency, fit_phonological, fit_semantic,
              fit_verbal_memory, fit_visuospatial, fit_motor_speed, fit_attention]

W, H = 1335, 1449
# pixel layout of the panels
col_left = [111, 747]
row_top = [46.5, 399, 757, 1110]
panel_w, panel_h = 585, 274.5
title_cx = [396, 1034, 398, 1037, 393, 1046, 410, 1049]
title_cy = [25, 25, 379, 377, 734, 734, 1088, 1088]

GRID = '#dadada'
TEXT = '#4d4d4d'
# sphere look: stacked discs, light on top
ball_sizes = [76, 60, 38, 14]
ball_colors = ['#5c5c5c', '#6c6c6c', '#7e7e7e', '#989898']
ball_lift = [0.0, 0.02, 0.08, 0.16]


def draw_balls(ax, scores, fill):
    ages, vals = [], []
    for age, ys, more in zip(fill_ages, [scores[a] for a in fill_ages], fill):
        ages += [age] * (len(ys) + len(more))
        vals += ys + more
    n = len(ages)
    x = np.repeat(ages, 4)
    y = np.repeat(vals, 4) + np.tile(ball_lift, n)
    ax.scatter(x, y, s=np.tile(ball_sizes, n), c=np.tile(ball_colors, n), linewidths=0, zorder=3, clip_on=False)


fig = plt.figure(figsize=(W / 100, H / 100), dpi=100, facecolor='white')

for i in range(8):
    left = col_left[i % 2]
    top = row_top[i // 2]
    ax = fig.add_axes([left / W, 1 - (top + panel_h) / H, panel_w / W, panel_h / H])
    ax.set_xlim(15, 90)
    ax.set_ylim(-8, 8)
    ax.set_xticks(np.arange(15, 91, 5))
    ax.set_xticklabels(['' if a % 10 or a > 80 or a < 20 else str(a) for a in range(15, 91, 5)])
    ax.set_yticks(np.arange(-8, 9, 2))
    ax.tick_params(length=0, labelsize=12.5, labelcolor=TEXT, pad=4)
    ax.grid(True, color=GRID, linewidth=1.2, zorder=0)
    ax.set_axisbelow(True)
    ax.axhline(0, color='#c0c0c0', linewidth=1.2, zorder=1)
    for s in ax.spines.values():
        s.set_color(GRID)
        s.set_linewidth(1.2)
    ax.spines['left'].set_color('#c8c8c8')
    draw_balls(ax, panel_scores[i], panel_fill[i])
    ax.plot(fit_ages, panel_fits[i], color='black', linewidth=4.4, solid_capstyle='round', zorder=4)
    fig.text(title_cx[i] / W, 1 - title_cy[i] / H, titles[i], ha='center', va='center', fontsize=23, color='#404040')

fig.text(27 / W, 1 - 728 / H, 'Composite Factor Scores', rotation=90, ha='center', va='center', fontsize=26, color='#404040')
fig.text(65 / W, 1 - 748 / H, '(scaled score units)', rotation=90, ha='center', va='center', fontsize=17, color='#404040')
fig.text(402 / W, 1 - 1431 / H, 'Age (years)', ha='center', va='center', fontsize=23, color='#404040')
fig.text(1038 / W, 1 - 1431 / H, 'Age (years)', ha='center', va='center', fontsize=23, color='#404040')

fig.savefig('out.png', dpi=100)
